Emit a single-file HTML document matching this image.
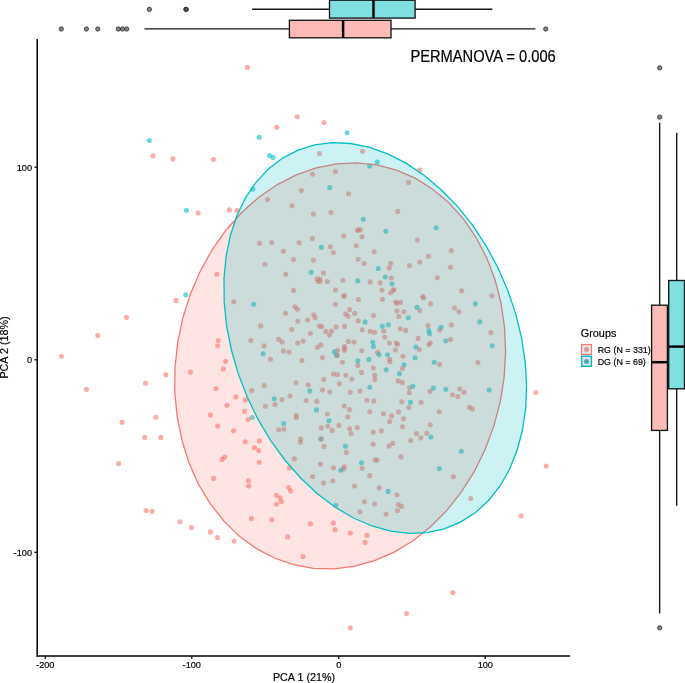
<!DOCTYPE html>
<html><head><meta charset="utf-8"><title>PCA</title>
<style>html,body{margin:0;padding:0;background:#fff}svg{display:block}text{font-family:"Liberation Sans",Arial,Helvetica,sans-serif;fill:#000;stroke:#000;stroke-width:0.18px}</style></head><body>
<svg width="685" height="683" viewBox="0 0 685 683">
<rect width="685" height="683" fill="#fff"/>
<g fill="#F8766D" fill-opacity="0.6">
<circle cx="172.9" cy="158.9" r="2.55"/><circle cx="213.4" cy="159.5" r="2.55"/><circle cx="276.7" cy="127.3" r="2.55"/><circle cx="324" cy="122.5" r="2.55"/><circle cx="319.5" cy="153.5" r="2.55"/><circle cx="312.6" cy="174.2" r="2.55"/><circle cx="335.4" cy="171.5" r="2.55"/><circle cx="301.4" cy="190.6" r="2.55"/><circle cx="348.6" cy="193.8" r="2.55"/><circle cx="267.5" cy="199.6" r="2.55"/><circle cx="292.1" cy="205.8" r="2.55"/><circle cx="198.1" cy="213.1" r="2.55"/><circle cx="229.4" cy="209.9" r="2.55"/><circle cx="237" cy="210.2" r="2.55"/><circle cx="313.4" cy="214" r="2.55"/><circle cx="331" cy="212.5" r="2.55"/><circle cx="357.4" cy="230.2" r="2.55"/><circle cx="358.4" cy="230" r="2.55"/><circle cx="343.7" cy="236" r="2.55"/><circle cx="312.4" cy="238.6" r="2.55"/><circle cx="259.5" cy="243.2" r="2.55"/><circle cx="271.7" cy="242.5" r="2.55"/><circle cx="299.2" cy="242.7" r="2.55"/><circle cx="330.4" cy="246.8" r="2.55"/><circle cx="356.2" cy="245.8" r="2.55"/><circle cx="283.4" cy="251.2" r="2.55"/><circle cx="333.4" cy="252.5" r="2.55"/><circle cx="293.5" cy="259.5" r="2.55"/><circle cx="313.4" cy="260.3" r="2.55"/><circle cx="358.1" cy="259.2" r="2.55"/><circle cx="265" cy="264.2" r="2.55"/><circle cx="323.5" cy="273" r="2.55"/><circle cx="285.8" cy="274.2" r="2.55"/><circle cx="216.8" cy="274.3" r="2.55"/><circle cx="317.1" cy="278.9" r="2.55"/><circle cx="320" cy="279" r="2.55"/><circle cx="318.1" cy="281.5" r="2.55"/><circle cx="320" cy="281.2" r="2.55"/><circle cx="327.2" cy="281.5" r="2.55"/><circle cx="342.9" cy="280.3" r="2.55"/><circle cx="293.5" cy="290.4" r="2.55"/><circle cx="335.4" cy="290" r="2.55"/><circle cx="344.2" cy="295.5" r="2.55"/><circle cx="343.9" cy="296.4" r="2.55"/><circle cx="358.4" cy="299.5" r="2.55"/><circle cx="176.1" cy="300.4" r="2.55"/><circle cx="233.8" cy="301.8" r="2.55"/><circle cx="335.4" cy="304.2" r="2.55"/><circle cx="295" cy="306.8" r="2.55"/><circle cx="297.5" cy="309.2" r="2.55"/><circle cx="349.6" cy="309.6" r="2.55"/><circle cx="285.5" cy="313.3" r="2.55"/><circle cx="313.7" cy="314.7" r="2.55"/><circle cx="315.2" cy="317.8" r="2.55"/><circle cx="345.7" cy="314" r="2.55"/><circle cx="348.1" cy="316.2" r="2.55"/><circle cx="354.7" cy="313.4" r="2.55"/><circle cx="307.6" cy="320" r="2.55"/><circle cx="362.6" cy="151.3" r="2.55"/><circle cx="419.7" cy="170.1" r="2.55"/><circle cx="408.6" cy="182.4" r="2.55"/><circle cx="397.8" cy="211.4" r="2.55"/><circle cx="360.3" cy="229.8" r="2.55"/><circle cx="362" cy="236.8" r="2.55"/><circle cx="417.4" cy="240.1" r="2.55"/><circle cx="451.4" cy="250.6" r="2.55"/><circle cx="374.1" cy="251.8" r="2.55"/><circle cx="428.5" cy="256.2" r="2.55"/><circle cx="364.1" cy="263.5" r="2.55"/><circle cx="390.7" cy="263.2" r="2.55"/><circle cx="419.7" cy="262" r="2.55"/><circle cx="409.5" cy="265.5" r="2.55"/><circle cx="389.3" cy="267.9" r="2.55"/><circle cx="450.5" cy="267.3" r="2.55"/><circle cx="391.3" cy="277.8" r="2.55"/><circle cx="437.3" cy="277.8" r="2.55"/><circle cx="370.2" cy="281.9" r="2.55"/><circle cx="380.2" cy="282.8" r="2.55"/><circle cx="382" cy="290.1" r="2.55"/><circle cx="393.2" cy="289.8" r="2.55"/><circle cx="393.9" cy="290.1" r="2.55"/><circle cx="390.5" cy="292.8" r="2.55"/><circle cx="461.6" cy="290.7" r="2.55"/><circle cx="491.8" cy="295.7" r="2.55"/><circle cx="422.7" cy="296.6" r="2.55"/><circle cx="423.5" cy="297.7" r="2.55"/><circle cx="382.5" cy="299.2" r="2.55"/><circle cx="395.7" cy="302.1" r="2.55"/><circle cx="396.9" cy="303.3" r="2.55"/><circle cx="400.4" cy="302.4" r="2.55"/><circle cx="430.6" cy="303.9" r="2.55"/><circle cx="454.6" cy="308" r="2.55"/><circle cx="396.9" cy="310.9" r="2.55"/><circle cx="403.9" cy="311.8" r="2.55"/><circle cx="420" cy="310.6" r="2.55"/><circle cx="459" cy="311.8" r="2.55"/><circle cx="373.5" cy="315.6" r="2.55"/><circle cx="398.9" cy="316.5" r="2.55"/><circle cx="297.8" cy="321.2" r="2.55"/><circle cx="358.1" cy="320.7" r="2.55"/><circle cx="260.7" cy="325.9" r="2.55"/><circle cx="291.8" cy="329.5" r="2.55"/><circle cx="319.3" cy="326.1" r="2.55"/><circle cx="321.8" cy="326.6" r="2.55"/><circle cx="336.1" cy="326.9" r="2.55"/><circle cx="344.5" cy="326.4" r="2.55"/><circle cx="310.4" cy="333.2" r="2.55"/><circle cx="325.9" cy="331.4" r="2.55"/><circle cx="331.6" cy="331.1" r="2.55"/><circle cx="329.5" cy="335.1" r="2.55"/><circle cx="278.7" cy="339.3" r="2.55"/><circle cx="282" cy="342.1" r="2.55"/><circle cx="297.6" cy="343.1" r="2.55"/><circle cx="303.2" cy="341.1" r="2.55"/><circle cx="348.4" cy="341.4" r="2.55"/><circle cx="354" cy="342" r="2.55"/><circle cx="264" cy="345.9" r="2.55"/><circle cx="320.8" cy="344.9" r="2.55"/><circle cx="317.4" cy="347.2" r="2.55"/><circle cx="344.5" cy="346.6" r="2.55"/><circle cx="344.5" cy="348.6" r="2.55"/><circle cx="344.5" cy="350.3" r="2.55"/><circle cx="337.6" cy="350.3" r="2.55"/><circle cx="283.4" cy="350.9" r="2.55"/><circle cx="289.1" cy="352.1" r="2.55"/><circle cx="270.5" cy="359.2" r="2.55"/><circle cx="301.9" cy="360.6" r="2.55"/><circle cx="322.5" cy="357.6" r="2.55"/><circle cx="342.4" cy="362.3" r="2.55"/><circle cx="357.8" cy="365.4" r="2.55"/><circle cx="333.5" cy="374" r="2.55"/><circle cx="337.6" cy="374.5" r="2.55"/><circle cx="345.9" cy="375.3" r="2.55"/><circle cx="351.8" cy="379.1" r="2.55"/><circle cx="323.8" cy="379.6" r="2.55"/><circle cx="296" cy="382.7" r="2.55"/><circle cx="308.2" cy="384.7" r="2.55"/><circle cx="339.4" cy="383.7" r="2.55"/><circle cx="264.2" cy="385.4" r="2.55"/><circle cx="322.5" cy="390" r="2.55"/><circle cx="329.8" cy="392" r="2.55"/><circle cx="350.3" cy="392.2" r="2.55"/><circle cx="360" cy="391.1" r="2.55"/><circle cx="290" cy="396" r="2.55"/><circle cx="282" cy="399.6" r="2.55"/><circle cx="306.1" cy="400.5" r="2.55"/><circle cx="316.8" cy="401.4" r="2.55"/><circle cx="275.1" cy="404.5" r="2.55"/><circle cx="265.4" cy="406.2" r="2.55"/><circle cx="344.2" cy="406.1" r="2.55"/><circle cx="349.5" cy="409.6" r="2.55"/><circle cx="327.3" cy="414" r="2.55"/><circle cx="296.3" cy="415.2" r="2.55"/><circle cx="296.3" cy="417.8" r="2.55"/><circle cx="347.8" cy="416.8" r="2.55"/><circle cx="218.3" cy="340.5" r="2.55"/><circle cx="217.7" cy="345.8" r="2.55"/><circle cx="250.8" cy="340.5" r="2.55"/><circle cx="225.6" cy="361.3" r="2.55"/><circle cx="223.3" cy="368.9" r="2.55"/><circle cx="165.9" cy="374.8" r="2.55"/><circle cx="190.5" cy="372.1" r="2.55"/><circle cx="215.9" cy="388.5" r="2.55"/><circle cx="251.7" cy="390.6" r="2.55"/><circle cx="235.8" cy="397" r="2.55"/><circle cx="245.5" cy="399.9" r="2.55"/><circle cx="227.1" cy="405.2" r="2.55"/><circle cx="244.6" cy="411.4" r="2.55"/><circle cx="210.4" cy="414.9" r="2.55"/><circle cx="248.1" cy="419.6" r="2.55"/><circle cx="217.7" cy="426" r="2.55"/><circle cx="233.5" cy="430.7" r="2.55"/><circle cx="160.9" cy="437.4" r="2.55"/><circle cx="245.2" cy="441.8" r="2.55"/><circle cx="259.3" cy="440.9" r="2.55"/><circle cx="254.3" cy="447.7" r="2.55"/><circle cx="258.7" cy="450.6" r="2.55"/><circle cx="224.7" cy="457" r="2.55"/><circle cx="222.1" cy="459.4" r="2.55"/><circle cx="259.3" cy="462.3" r="2.55"/><circle cx="213.6" cy="478.4" r="2.55"/><circle cx="248.4" cy="480.8" r="2.55"/><circle cx="248.7" cy="486" r="2.55"/><circle cx="251.4" cy="518.5" r="2.55"/><circle cx="278.7" cy="429.7" r="2.55"/><circle cx="283.9" cy="429.1" r="2.55"/><circle cx="321.3" cy="427.9" r="2.55"/><circle cx="327.8" cy="426.3" r="2.55"/><circle cx="332.2" cy="430.4" r="2.55"/><circle cx="338.9" cy="425.4" r="2.55"/><circle cx="349.6" cy="428.8" r="2.55"/><circle cx="357.2" cy="427.5" r="2.55"/><circle cx="351.1" cy="433.5" r="2.55"/><circle cx="300.6" cy="439" r="2.55"/><circle cx="300.4" cy="442.3" r="2.55"/><circle cx="324" cy="446.4" r="2.55"/><circle cx="346.4" cy="452.4" r="2.55"/><circle cx="294.3" cy="458.9" r="2.55"/><circle cx="320.5" cy="464.1" r="2.55"/><circle cx="289.4" cy="467.9" r="2.55"/><circle cx="333.5" cy="467.7" r="2.55"/><circle cx="344.3" cy="466.7" r="2.55"/><circle cx="343.5" cy="468.9" r="2.55"/><circle cx="312.6" cy="476.5" r="2.55"/><circle cx="332.8" cy="480.8" r="2.55"/><circle cx="323.5" cy="483.1" r="2.55"/><circle cx="354.6" cy="486" r="2.55"/><circle cx="288.8" cy="487.5" r="2.55"/><circle cx="290.6" cy="490.9" r="2.55"/><circle cx="276.5" cy="495.3" r="2.55"/><circle cx="280.2" cy="497.9" r="2.55"/><circle cx="281.4" cy="501.6" r="2.55"/><circle cx="276.5" cy="504.2" r="2.55"/><circle cx="359.9" cy="511.8" r="2.55"/><circle cx="271.7" cy="519.8" r="2.55"/><circle cx="362.2" cy="329.7" r="2.55"/><circle cx="370.1" cy="331.3" r="2.55"/><circle cx="374.6" cy="332.2" r="2.55"/><circle cx="383.7" cy="331.1" r="2.55"/><circle cx="400.3" cy="328.8" r="2.55"/><circle cx="405.7" cy="330.4" r="2.55"/><circle cx="428.1" cy="325.6" r="2.55"/><circle cx="451.4" cy="325" r="2.55"/><circle cx="439.6" cy="330.1" r="2.55"/><circle cx="384.7" cy="337.3" r="2.55"/><circle cx="418.1" cy="338.4" r="2.55"/><circle cx="450.5" cy="339.5" r="2.55"/><circle cx="389.3" cy="343.1" r="2.55"/><circle cx="396.2" cy="343" r="2.55"/><circle cx="397.5" cy="344.2" r="2.55"/><circle cx="430.4" cy="343" r="2.55"/><circle cx="428.8" cy="344.6" r="2.55"/><circle cx="419.3" cy="349.6" r="2.55"/><circle cx="361.8" cy="350.7" r="2.55"/><circle cx="395.4" cy="350" r="2.55"/><circle cx="377.6" cy="352.4" r="2.55"/><circle cx="403" cy="356.2" r="2.55"/><circle cx="389.7" cy="359.2" r="2.55"/><circle cx="389.9" cy="361.7" r="2.55"/><circle cx="439.5" cy="364.4" r="2.55"/><circle cx="373.3" cy="368" r="2.55"/><circle cx="402.5" cy="368.5" r="2.55"/><circle cx="361.5" cy="372.4" r="2.55"/><circle cx="374.8" cy="375.2" r="2.55"/><circle cx="374.8" cy="379.6" r="2.55"/><circle cx="398.2" cy="380.9" r="2.55"/><circle cx="402.2" cy="382.4" r="2.55"/><circle cx="409.5" cy="387.8" r="2.55"/><circle cx="409.3" cy="392.8" r="2.55"/><circle cx="430" cy="391.3" r="2.55"/><circle cx="459.8" cy="388.8" r="2.55"/><circle cx="452.5" cy="394.7" r="2.55"/><circle cx="457.8" cy="396.6" r="2.55"/><circle cx="366.9" cy="400.2" r="2.55"/><circle cx="373.8" cy="401.1" r="2.55"/><circle cx="401.7" cy="401.8" r="2.55"/><circle cx="421.1" cy="402.3" r="2.55"/><circle cx="409" cy="407.6" r="2.55"/><circle cx="369.8" cy="411.7" r="2.55"/><circle cx="398.5" cy="411.9" r="2.55"/><circle cx="439.2" cy="411.8" r="2.55"/><circle cx="383.4" cy="413.7" r="2.55"/><circle cx="391.5" cy="415.9" r="2.55"/><circle cx="403.5" cy="418.7" r="2.55"/><circle cx="490.9" cy="332.6" r="2.55"/><circle cx="477.9" cy="362.5" r="2.55"/><circle cx="464.1" cy="392.2" r="2.55"/><circle cx="469.5" cy="407.3" r="2.55"/><circle cx="472.4" cy="409" r="2.55"/><circle cx="535.8" cy="392.6" r="2.55"/><circle cx="389.6" cy="421.5" r="2.55"/><circle cx="430.3" cy="424.7" r="2.55"/><circle cx="402.5" cy="426.7" r="2.55"/><circle cx="381.4" cy="430.8" r="2.55"/><circle cx="373.2" cy="432.3" r="2.55"/><circle cx="416.5" cy="433.5" r="2.55"/><circle cx="426.8" cy="433.2" r="2.55"/><circle cx="420.9" cy="437.9" r="2.55"/><circle cx="410.7" cy="440.5" r="2.55"/><circle cx="392.8" cy="443.4" r="2.55"/><circle cx="389" cy="446.1" r="2.55"/><circle cx="373.2" cy="444.3" r="2.55"/><circle cx="401" cy="456.9" r="2.55"/><circle cx="375.2" cy="460.1" r="2.55"/><circle cx="377" cy="460.1" r="2.55"/><circle cx="362.3" cy="468.3" r="2.55"/><circle cx="369.7" cy="475.6" r="2.55"/><circle cx="453.4" cy="476.8" r="2.55"/><circle cx="379.3" cy="487.9" r="2.55"/><circle cx="396.9" cy="494.7" r="2.55"/><circle cx="470.7" cy="498.5" r="2.55"/><circle cx="364.4" cy="501.7" r="2.55"/><circle cx="374.6" cy="504" r="2.55"/><circle cx="398.4" cy="504.6" r="2.55"/><circle cx="401.6" cy="506.4" r="2.55"/><circle cx="397.5" cy="510.5" r="2.55"/><circle cx="386.1" cy="514.3" r="2.55"/><circle cx="546.2" cy="466" r="2.55"/><circle cx="521.1" cy="515.8" r="2.55"/><circle cx="367" cy="535.4" r="2.55"/><circle cx="365" cy="542.4" r="2.55"/><circle cx="452.8" cy="592.5" r="2.55"/><circle cx="406.6" cy="613.6" r="2.55"/><circle cx="152.9" cy="155.7" r="2.55"/><circle cx="126.5" cy="317.4" r="2.55"/><circle cx="97.8" cy="335.5" r="2.55"/><circle cx="61.5" cy="356.3" r="2.55"/><circle cx="86.4" cy="389.4" r="2.55"/><circle cx="145.5" cy="383.3" r="2.55"/><circle cx="155.8" cy="417.2" r="2.55"/><circle cx="122.1" cy="422.2" r="2.55"/><circle cx="144.7" cy="437.4" r="2.55"/><circle cx="118.6" cy="463.5" r="2.55"/><circle cx="146.1" cy="510.6" r="2.55"/><circle cx="152" cy="511.2" r="2.55"/><circle cx="179.9" cy="521.7" r="2.55"/><circle cx="191.4" cy="527.5" r="2.55"/><circle cx="210.4" cy="531.9" r="2.55"/><circle cx="217.4" cy="537.5" r="2.55"/><circle cx="234.1" cy="541" r="2.55"/><circle cx="287.7" cy="536.9" r="2.55"/><circle cx="310.5" cy="523.7" r="2.55"/><circle cx="333.3" cy="523.1" r="2.55"/><circle cx="335.1" cy="529.6" r="2.55"/><circle cx="350.3" cy="533.1" r="2.55"/><circle cx="303.1" cy="556.5" r="2.55"/><circle cx="350.3" cy="627.7" r="2.55"/><circle cx="247.4" cy="67.6" r="2.55"/><circle cx="297.2" cy="116.8" r="2.55"/>
</g>
<g fill="#00BFC4" fill-opacity="0.6">
<circle cx="347.1" cy="132.7" r="2.55"/><circle cx="259.3" cy="137.2" r="2.55"/><circle cx="269.5" cy="155.6" r="2.55"/><circle cx="273" cy="157.4" r="2.55"/><circle cx="252.8" cy="189.1" r="2.55"/><circle cx="329.8" cy="187.6" r="2.55"/><circle cx="186.4" cy="210.2" r="2.55"/><circle cx="321.4" cy="247.2" r="2.55"/><circle cx="311.2" cy="272.2" r="2.55"/><circle cx="357.7" cy="280.8" r="2.55"/><circle cx="185.8" cy="294.8" r="2.55"/><circle cx="253.7" cy="304.2" r="2.55"/><circle cx="377.3" cy="162.1" r="2.55"/><circle cx="369.7" cy="166" r="2.55"/><circle cx="363.2" cy="219.3" r="2.55"/><circle cx="436.1" cy="227.8" r="2.55"/><circle cx="385.8" cy="231.3" r="2.55"/><circle cx="378.2" cy="268.5" r="2.55"/><circle cx="385.2" cy="277" r="2.55"/><circle cx="391.9" cy="283.7" r="2.55"/><circle cx="475.4" cy="303.9" r="2.55"/><circle cx="417.1" cy="307.4" r="2.55"/><circle cx="408.3" cy="317.7" r="2.55"/><circle cx="334.4" cy="351.9" r="2.55"/><circle cx="336.6" cy="355.4" r="2.55"/><circle cx="263.2" cy="353.8" r="2.55"/><circle cx="357.8" cy="360.8" r="2.55"/><circle cx="309.8" cy="390.9" r="2.55"/><circle cx="274.3" cy="398.8" r="2.55"/><circle cx="316.4" cy="409.9" r="2.55"/><circle cx="329" cy="420.8" r="2.55"/><circle cx="252.2" cy="417.5" r="2.55"/><circle cx="283.7" cy="423.5" r="2.55"/><circle cx="320.8" cy="439" r="2.55"/><circle cx="345.4" cy="446.2" r="2.55"/><circle cx="340.8" cy="470.2" r="2.55"/><circle cx="335.8" cy="505.2" r="2.55"/><circle cx="365.1" cy="321.9" r="2.55"/><circle cx="382.3" cy="326.3" r="2.55"/><circle cx="388.4" cy="324.8" r="2.55"/><circle cx="441.1" cy="327.3" r="2.55"/><circle cx="428.8" cy="330.5" r="2.55"/><circle cx="429.5" cy="333.8" r="2.55"/><circle cx="445.8" cy="340.8" r="2.55"/><circle cx="372.7" cy="342.3" r="2.55"/><circle cx="373.5" cy="346.5" r="2.55"/><circle cx="415.8" cy="347.1" r="2.55"/><circle cx="379" cy="354.6" r="2.55"/><circle cx="387.5" cy="354.7" r="2.55"/><circle cx="415.1" cy="357.8" r="2.55"/><circle cx="368.9" cy="359.4" r="2.55"/><circle cx="434.2" cy="362.3" r="2.55"/><circle cx="404.1" cy="364.7" r="2.55"/><circle cx="386.2" cy="369.8" r="2.55"/><circle cx="399.5" cy="373.6" r="2.55"/><circle cx="412.9" cy="386.2" r="2.55"/><circle cx="369.8" cy="387.2" r="2.55"/><circle cx="433.4" cy="388.1" r="2.55"/><circle cx="445.8" cy="389.3" r="2.55"/><circle cx="410.4" cy="402.3" r="2.55"/><circle cx="479.8" cy="321.9" r="2.55"/><circle cx="492.2" cy="345.8" r="2.55"/><circle cx="489.1" cy="390" r="2.55"/><circle cx="430.9" cy="437" r="2.55"/><circle cx="461.3" cy="451.3" r="2.55"/><circle cx="361.5" cy="462.8" r="2.55"/><circle cx="439.4" cy="468.6" r="2.55"/><circle cx="388.1" cy="491.4" r="2.55"/><circle cx="149.3" cy="140.5" r="2.55"/>
</g>
<g fill="#F8766D" fill-opacity="0.6">
<circle cx="337.3" cy="355.4" r="2.55"/><circle cx="321.3" cy="438.7" r="2.55"/>
</g>
<path d="M376.9,164.9 L396.5,170.1 L415.2,178.2 L432.7,189.2 L448.9,202.8 L463.4,218.9 L476.0,237.3 L486.6,257.6 L495.0,279.5 L501.0,302.8 L504.5,327.0 L505.6,351.7 L504.2,376.8 L500.3,401.6 L493.9,425.9 L485.2,449.3 L474.4,471.4 L461.4,491.9 L446.7,510.6 L430.3,527.0 L412.6,541.0 L393.8,552.3 L374.1,560.8 L353.9,566.3 L333.6,568.8 L313.3,568.3 L293.4,564.6 L274.3,558.0 L256.1,548.4 L239.2,536.1 L223.9,521.1 L210.3,503.9 L198.6,484.5 L189.2,463.4 L182.0,440.7 L177.2,417.0 L174.8,392.4 L175.0,367.5 L177.7,342.5 L182.8,317.9 L190.4,294.0 L200.2,271.2 L212.1,249.8 L225.9,230.2 L241.5,212.7 L258.6,197.4 L276.9,184.8 L296.2,174.8 L316.2,167.8 L336.5,163.8 L356.8,162.8 L376.9,164.9Z" fill="#F8766D" fill-opacity="0.2" stroke="#F8766D" stroke-width="1.3"/>
<path d="M298.1,150.1 L314.7,144.9 L332.2,142.7 L350.4,143.5 L368.9,147.2 L387.6,153.8 L406.0,163.1 L424.0,175.2 L441.2,189.7 L457.5,206.4 L472.5,225.2 L486.0,245.6 L497.8,267.5 L507.8,290.4 L515.8,314.1 L521.6,338.1 L525.2,362.1 L526.6,385.7 L525.6,408.7 L522.4,430.5 L516.9,451.0 L509.3,469.7 L499.7,486.5 L488.1,501.0 L474.9,513.0 L460.1,522.4 L444.1,528.9 L427.0,532.6 L409.1,533.4 L390.7,531.1 L372.1,526.0 L353.5,518.0 L335.3,507.3 L317.6,494.0 L300.9,478.3 L285.2,460.5 L270.9,440.9 L258.2,419.7 L247.3,397.3 L238.3,373.9 L231.4,350.0 L226.6,326.0 L224.2,302.1 L224.0,278.8 L226.1,256.3 L230.4,235.2 L237.0,215.5 L245.6,197.7 L256.2,182.1 L268.6,168.8 L282.7,158.1 L298.1,150.1Z" fill="#00BFC4" fill-opacity="0.2" stroke="#00BFC4" stroke-width="1.3"/>
<g stroke="#000" stroke-width="1.5" fill="none">
<path d="M37.2,38.9 V656.6"/><path d="M36.5,655.9 H570"/>
</g>
<g stroke="#111" stroke-width="1.3">
<path d="M45.3,656 V659"/>
<path d="M191.8,656 V659"/>
<path d="M338.7,656 V659"/>
<path d="M485.3,656 V659"/>
<path d="M34.4,167.2 H37.2"/>
<path d="M34.4,359.8 H37.2"/>
<path d="M34.4,552.3 H37.2"/>
</g>
<g font-size="9.2" text-anchor="middle">
<text x="45.3" y="667.5">-200</text>
<text x="191.8" y="667.5">-100</text>
<text x="338.7" y="667.5">0</text>
<text x="485.3" y="667.5">100</text>
</g>
<g font-size="9.2" text-anchor="end">
<text x="32" y="170.5">100</text>
<text x="32" y="363.1">0</text>
<text x="32" y="555.5999999999999">-100</text>
</g>
<text x="304" y="681.2" font-size="10.75" text-anchor="middle">PCA 1 (21%)</text>
<text transform="translate(8.1,347.5) rotate(-90)" font-size="10.75" text-anchor="middle">PCA 2 (18%)</text>
<text transform="translate(410.4,62.2) scale(1,1.06)" font-size="14.7">PERMANOVA = 0.006</text>
<g stroke="#161616" stroke-width="1.35">
<path d="M252.1,9.2 H329.5 M415.1,9.2 H492.3"/>
<rect x="329.5" y="0.2" width="85.6" height="17.9" fill="#80DFE1"/>
<path d="M373.5,0.2 V18.1" stroke="#000" stroke-width="2.5"/>
<path d="M144.5,28.8 H289.4 M391,28.8 H535.4"/>
<rect x="289.4" y="20.3" width="101.6" height="17.5" fill="#FCBBB6"/>
<path d="M343.1,20.3 V37.8" stroke="#000" stroke-width="2.5"/>
<path d="M659.65,122.7 V305.2 M659.65,430.4 V613.6"/>
<rect x="651.6" y="305.2" width="15.8" height="125.2" fill="#FCBBB6"/>
<path d="M651.6,362.2 H667.4" stroke="#000" stroke-width="2.5"/>
<path d="M676.7,132.7 V280.5 M676.7,388.8 V505.8"/>
<rect x="668.7" y="280.5" width="15.8" height="108.3" fill="#80DFE1"/>
<path d="M668.7,346.6 H684.5" stroke="#000" stroke-width="2.5"/>
</g>
<g fill="#333" fill-opacity="0.6" stroke="#333" stroke-opacity="0.85" stroke-width="1">
<circle cx="61.3" cy="29" r="2.15"/>
<circle cx="86.4" cy="29" r="2.15"/>
<circle cx="97.8" cy="29" r="2.15"/>
<circle cx="118.3" cy="29" r="2.15"/>
<circle cx="122.5" cy="29" r="2.15"/>
<circle cx="126.7" cy="29" r="2.15"/>
<circle cx="545.8" cy="29" r="2.15"/>
<circle cx="149.4" cy="9.4" r="2.15"/>
<circle cx="186.2" cy="9.4" r="2.15"/>
<circle cx="185.9" cy="9.4" r="2.15"/>
<circle cx="659.7" cy="67.85" r="2.15"/>
<circle cx="659.7" cy="117.05" r="2.15"/>
<circle cx="659.7" cy="627.8" r="2.15"/>
</g>
<text x="580.8" y="337.2" font-size="10.85">Groups</text>
<rect x="581.55" y="344.55" width="9.95" height="9.95" fill="#E3E6E6" stroke="#F8766D" stroke-width="1.2"/>
<rect x="581.65" y="356.2" width="9.75" height="10.1" fill="#E8DFDF" stroke="#00BFC4" stroke-width="1.4"/>
<circle cx="586.5" cy="349.6" r="2.5" fill="#E29793"/>
<circle cx="586.5" cy="361.4" r="2.5" fill="#3DB5B8"/>
<text x="597.7" y="352.8" font-size="8.9">RG (N = 331)</text>
<text x="597.7" y="364.5" font-size="8.9">DG (N = 69)</text>
</svg></body></html>
